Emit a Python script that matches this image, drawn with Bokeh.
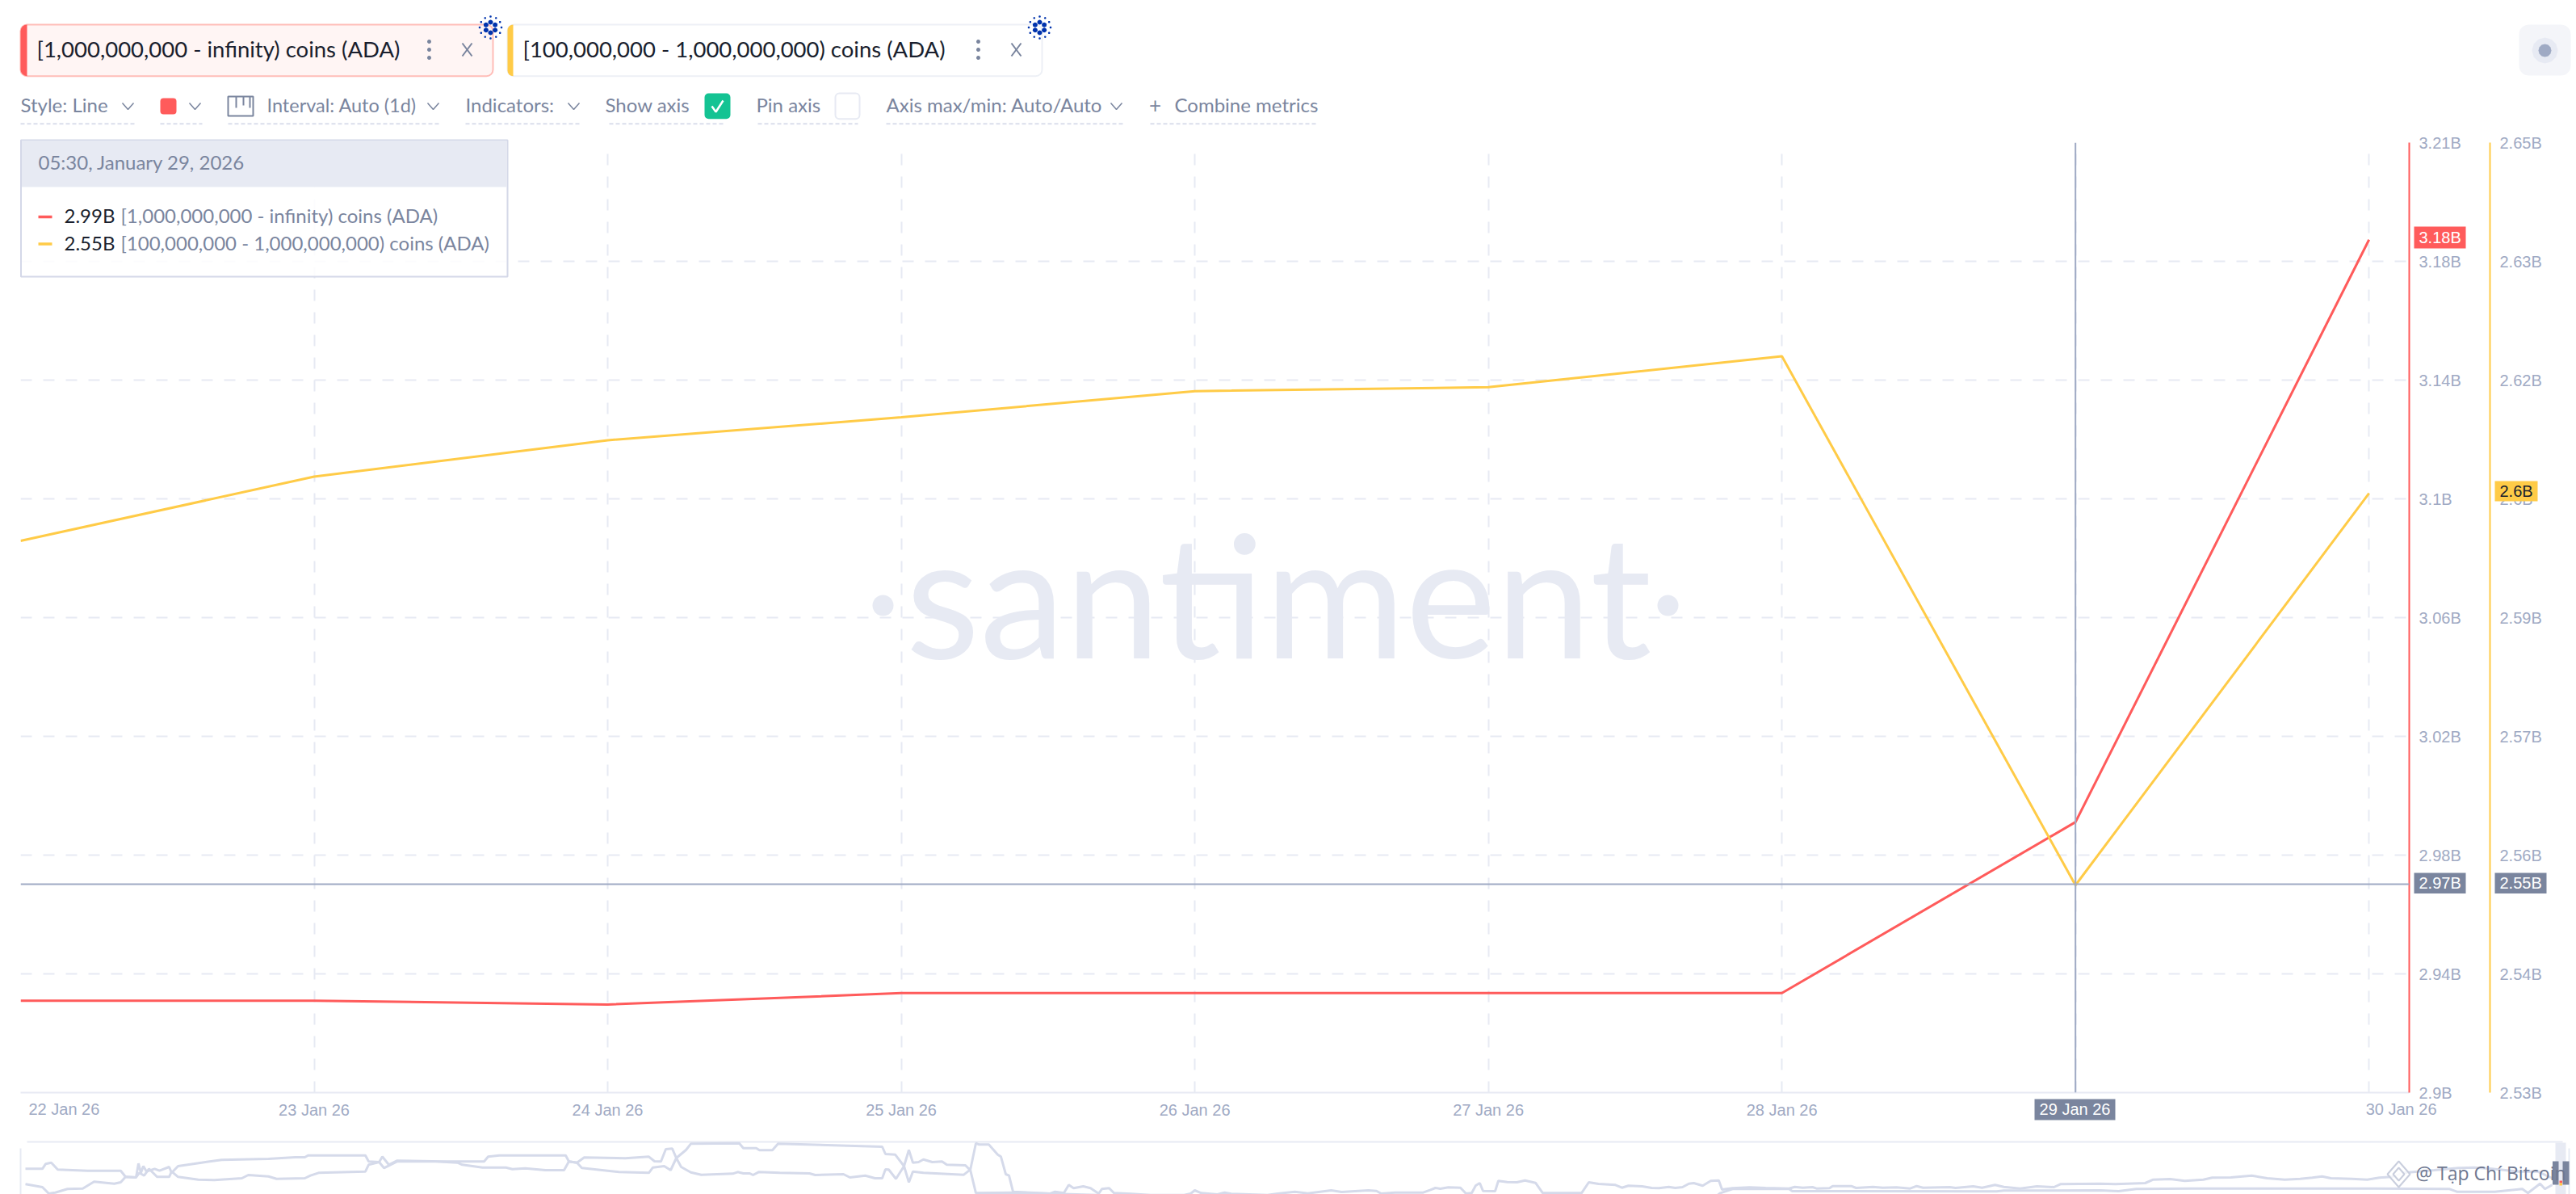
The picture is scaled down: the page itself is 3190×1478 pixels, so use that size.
from bokeh.core.properties import value
from bokeh.embed import file_html
from bokeh.models import FixedTicker, LinearAxis, Range1d, Span
from bokeh.plotting import figure
from bokeh.resources import INLINE
import numpy as np

# days shown on the main chart
days = [0, 1, 2, 3, 4, 5, 6, 7, 8]
day_labels = ["22 Jan 26", "23 Jan 26", "24 Jan 26", "25 Jan 26", "26 Jan 26",
              "27 Jan 26", "28 Jan 26", "29 Jan 26", "30 Jan 26"]

# supply held, in billions of ADA
whales_1b = [2.9305, 2.9305, 2.9292, 2.933, 2.933, 2.933, 2.933, 2.9897, 3.1828]
whales_100m = [2.5997, 2.6078, 2.6124, 2.6153, 2.6186, 2.6191, 2.623, 2.5562, 2.6057]

red_ticks = [2.9, 2.939375, 2.97875, 3.018125, 3.0575, 3.096875, 3.13625, 3.175625, 3.215]
red_tick_labels = ["2.9B", "2.94B", "2.98B", "3.02B", "3.06B", "3.1B", "3.14B", "3.18B", "3.21B"]
yellow_ticks = [2.53, 2.545, 2.56, 2.575, 2.59, 2.605, 2.62, 2.635, 2.65]
yellow_tick_labels = ["2.53B", "2.54B", "2.56B", "2.57B", "2.59B", "2.6B", "2.62B", "2.63B", "2.65B"]

crosshair_day = 7
crosshair_red = 2.9691

# overview strip: long history, arbitrary units along and across the strip
mini_upper_t = [6, 27, 31, 38, 46, 83, 124, 130, 143, 146, 149, 152, 156, 166, 172, 184, 187, 195, 224, 249,
                307, 340, 352, 356, 427, 431, 444, 448, 456, 466, 510, 541, 574, 579, 593, 625, 675, 679, 689, 698,
                749, 778, 785, 793, 799, 807, 812, 824, 830, 890, 895, 911, 915, 931, 938, 1067, 1071, 1083, 1094, 1100,
                1105, 1112, 1118, 1129, 1141, 1147, 1170, 1176, 1183, 1187, 1199, 1210, 1214, 1220, 1224, 1229, 1275, 1281, 1292, 1298,
                1304, 1316, 1325, 1335, 1339, 1348, 1354, 1375, 1399, 1441, 1449, 1454, 1462, 1482, 1491, 1499, 1544, 1557, 1578, 1594,
                1623, 1636, 1669, 1679, 1685, 1702, 1737, 1746, 1752, 1758, 1768, 1783, 1790, 1797, 1802, 1807, 1811, 1826, 1830, 1841,
                1853, 1863, 1876, 1885, 1925, 1933, 1942, 1954, 1975, 1983, 1991, 2008, 2020, 2029, 2041, 2049, 2058, 2066, 2072, 2083,
                2093, 2103, 2107, 2120, 2141, 2161, 2190, 2197, 2207, 2219, 2224, 2240, 2244, 2267, 2273, 2294, 2306, 2323, 2340, 2348,
                2356, 2389, 2396, 2418, 2429, 2445, 2456, 2476, 2497, 2518, 2526, 2575, 2594, 2631, 2641, 2662, 2680, 2703, 2714, 2737,
                2763, 2782, 2804, 2823, 2838, 2850, 2861, 2887, 2906, 2921, 2936, 2951, 2989, 3019, 3038, 3060, 3094, 3117, 3135]
mini_upper_v = [31.7, 31.7, 37.7, 39.3, 30.7, 29.3, 29.3, 21.7, 21, 38.3, 26.7, 35, 28.3, 31.7, 29.3, 34, 26.7, 35, 39.3, 42.7,
                44, 46, 46, 48.3, 48.3, 40.7, 40, 46.7, 36.7, 41.7, 41, 40.7, 40.7, 46.7, 48.3, 48.3, 48.3, 40.7, 39.3, 45.7,
                44.7, 46.7, 41, 40.7, 56, 56.7, 45, 55, 62.7, 63.3, 57.3, 57.3, 54.7, 54.7, 62.7, 59, 50, 49.3, 35, 55,
                39.3, 40, 43.3, 40, 40.7, 36.7, 36, 30, 63.3, 61.7, 61.7, 49.3, 46.7, 25, 23.3, 3.3, 1, 3.3, 1.7, 11.7,
                7.7, 10, 7.7, 1, 6.7, 7.7, 1.7, 0.7, -0.7, -0.7, 1, 5, 1.7, 0, 2.3, 0.7, -0.7, 1, 3.3, 1.3,
                5, 3, 5, 4.3, 1, 2.3, 2.3, 5.7, 8, 7, 8.7, 8.3, 1, 1.7, 11, 14, 4.3, 4, 16.7, 15.3,
                15, 17.3, 14.3, 1.7, 1.7, 1.7, 15, 13, 11.7, 8.3, 10.7, 10, 8, 7.7, 9.3, 8, 9, 13.3, 14, 10.7,
                16.7, 17.3, 6, 7.7, 8.7, 8, 7.3, 9.3, 8.3, 9, 7.3, 7.7, 10.3, 10.3, 8, 9.3, 8.3, 8.7, 7.3, 10.3,
                8.3, 9, 8, 10, 8.3, 11.7, 9.3, 7.3, 10, 9, 12.7, 13.3, 12.7, 14, 18.3, 19, 16.7, 18.3, 20.7, 21,
                23.3, 20, 18.3, 19.3, 20.7, 22.3, 20, 19.3, 18.3, 20.7, 21.7, 26.7, 30, 32.7, 33.3, 31.7, 28.3, 28.3, 20]
mini_lower_t = [6, 27, 35, 43, 58, 77, 91, 116, 124, 130, 143, 147, 153, 159, 169, 184, 187, 195, 220, 240,
                274, 282, 307, 317, 352, 359, 369, 427, 431, 444, 450, 466, 510, 541, 547, 572, 601, 609, 625, 650,
                673, 679, 689, 695, 741, 778, 783, 797, 805, 812, 818, 830, 843, 882, 888, 895, 903, 907, 914, 940,
                977, 984, 1019, 1027, 1046, 1058, 1067, 1071, 1075, 1084, 1094, 1100, 1105, 1118, 1168, 1176, 1183, 1229, 1275, 1340,
                2100, 2105, 2120, 2190, 2194, 2447, 2456, 2575, 2598, 2620, 2688, 2801, 2914, 3008, 3017, 3064, 3098, 3105, 3120, 3126, 3135]
mini_lower_v = [12.7, 9, 1, 2.3, 6.7, 7.3, 15.7, 13.3, 15, 21.7, 21, 26.7, 23.3, 31.7, 21.7, 21.7, 28.3, 21.7, 18.3, 17.7,
                20, 24, 22.3, 19.3, 20, 23.3, 26.7, 28.3, 36.7, 40, 32.7, 40.7, 41, 39.3, 36.7, 33.3, 33.3, 31.3, 32.3, 30,
                30, 40.7, 39.3, 32.7, 27.7, 26.7, 33.3, 35, 30, 45, 34, 27.3, 24.3, 25.7, 27.7, 26, 26, 24, 27.7, 26.7,
                26, 24, 25, 21, 23.3, 20, 20, 31, 30.7, 19.3, 35, 15, 28.3, 26.7, 24.3, 30.7, 1.7, 2.3, 1, -1,
                -2, 1.7, 6.7, 6.7, 4, 3.7, 4.7, 5, 4, 6.7, 7.3, 7.3, 7.3, 6.7, 3.3, 3.3, 6.7, 1.7, 13.3, 6.7, 11.7]

RED = "#FF5B5B"
YELLOW = "#FFCB47"
ATHENS = "#E7EAF3"
CASPER = "#9FAAC4"
WATERLOO = "#7A859E"
DARK = "#1A1F2E"
UI_FONT = "Lato"
AXIS_FONT = "Liberation Sans"

p = figure(width=3190, height=1478, toolbar_location=None, output_backend="svg",
           x_range=Range1d(0, 8.137), y_range=Range1d(2.9, 3.215), y_axis_location="right",
           min_border_left=25, min_border_right=207, min_border_top=176, min_border_bottom=126)
p.outline_line_color = None
p.background_fill_color = "white"
p.border_fill_color = "white"

# "px" puts the page furniture in plain picture coordinates, "mini" is the overview strip
p.extra_x_ranges["px"] = Range1d(25, 2983)
p.extra_y_ranges["px"] = Range1d(1352, 176)
p.extra_y_ranges["yellow"] = Range1d(2.53, 2.65)
p.extra_x_ranges["mini"] = Range1d(0, 2958)
p.extra_y_ranges["mini"] = Range1d(126, 1302)


def style_axis(axis, color):
    axis.axis_line_color = color
    axis.axis_line_width = 2
    axis.major_tick_line_color = None
    axis.minor_tick_line_color = None
    axis.major_tick_out = 0
    axis.major_tick_in = 0
    axis.minor_tick_out = 0
    axis.major_label_text_color = CASPER
    axis.major_label_text_font = AXIS_FONT
    axis.major_label_text_font_size = "20px"


red_axis = p.yaxis[0]
red_axis.ticker = FixedTicker(ticks=red_ticks)
red_axis.major_label_overrides = dict(zip(red_ticks, red_tick_labels))
style_axis(red_axis, RED)
red_axis.major_label_standoff = 12
red_axis.axis_label = " "
red_axis.axis_label_standoff = 8
red_axis.axis_label_text_font_size = "20px"

yellow_axis = LinearAxis(y_range_name="yellow", ticker=FixedTicker(ticks=yellow_ticks),
                         major_label_overrides=dict(zip(yellow_ticks, yellow_tick_labels)))
style_axis(yellow_axis, YELLOW)
yellow_axis.major_label_standoff = 12
p.add_layout(yellow_axis, "right")

x_axis = p.xaxis[0]
x_axis.ticker = FixedTicker(ticks=days)
# first and last date sit beside their tick, see below
x_axis.major_label_overrides = {d: ("" if d in (days[0], days[-1]) else t) for d, t in zip(days, day_labels)}
style_axis(x_axis, ATHENS)
x_axis.major_label_standoff = 10

for grid, ticks in ((p.xgrid[0], days), (p.ygrid[0], red_ticks)):
    grid.ticker = FixedTicker(ticks=ticks)
    grid.grid_line_color = ATHENS
    grid.grid_line_width = 2
    grid.grid_line_dash = "14 14"

OVER = dict(x_range_name="px", y_range_name="px", level="overlay")


def text(x, y, s, color=WATERLOO, size=24, font=UI_FONT, align="left", baseline="middle", **kw):
    p.text(x=[x], y=[y], text=[s], text_color=color, text_font=value(font), text_font_size=f"{size}px",
           text_align=align, text_baseline=baseline, **{**OVER, **kw})


def box(x0, x1, y0, y1, fill="white", line=None, radius=0, width=2, alpha=1.0):
    p.quad(left=[x0], right=[x1], top=[y0], bottom=[y1], fill_color=fill, fill_alpha=alpha,
           line_color=line, line_width=width, border_radius=radius, **OVER)


def stroke(xs, ys, color=WATERLOO, width=2, dash="solid"):
    p.line(xs, ys, line_color=color, line_width=width, line_dash=dash, **OVER)


# markers outside the frame get culled, a patch does not
def dot(x, y, r, color, alpha=1.0):
    a = np.radians(np.arange(0, 360, 30))
    p.patch(x + r * np.cos(a), y + r * np.sin(a), fill_color=color, fill_alpha=alpha, line_color=None, **OVER)


def chevron(x, y):
    stroke([x - 7, x, x + 7], [y - 4, y + 4, y - 4], color=WATERLOO, width=1.5)


def cross(x, y):
    stroke([x - 6, x + 6], [y - 8, y + 8], width=2)
    stroke([x - 6, x + 6], [y + 8, y - 8], width=2)


def dots(x, y):
    for dy in (-10, 0, 10):
        dot(x, y + dy, 2.5, WATERLOO)


def ada(x, y):
    for a in np.radians(np.arange(0, 360, 60) + 30):
        dot(x + 6.5 * np.cos(a), y + 6.5 * np.sin(a), 3, "#0033AD")
    for a in np.radians(np.arange(0, 360, 30)):
        dot(x + 13.5 * np.cos(a), y + 13.5 * np.sin(a), 1.3, "#0033AD")


def underline(x0, x1):
    stroke([x0, x1], [152.7, 152.7], color="#DADEEC", width=2, dash="5 3")


# watermark under everything
p.text(x=[1121], y=[732], text=["santiment"], text_color=ATHENS, text_font=value("Lato"),
       text_font_size="212px", text_baseline="alphabetic", x_range_name="px", y_range_name="px", level="underlay")
p.scatter([1093, 2065], [749, 749], marker="circle", size=26, fill_color=ATHENS, line_color=None,
          x_range_name="px", y_range_name="px", level="underlay")

# series
p.line(days, whales_1b, line_color=RED, line_width=3)
p.line(days, whales_100m, line_color=YELLOW, line_width=3, y_range_name="yellow")

# crosshair
p.add_layout(Span(location=crosshair_day, dimension="height", line_color=CASPER, line_width=2))
p.add_layout(Span(location=crosshair_red, dimension="width", line_color=CASPER, line_width=2))

# metric tabs
box(25, 610, 30, 93.7, fill="#FFF5F4", line="#FFBDB8", radius=8)
box(25, 33, 30, 93.7, fill=RED, radius=(8, 0, 0, 8))
text(45, 60, "[1,000,000,000 - infinity) coins (ADA)", color=DARK, size=27.5)
dots(531, 61)
cross(578, 61)
ada(607, 33.5)

box(628, 1290, 30, 93.7, fill="white", line="#EDF0F6", radius=8)
box(628, 635, 30, 93.7, fill=YELLOW, radius=(8, 0, 0, 8))
text(647, 60, "[100,000,000 - 1,000,000,000) coins (ADA)", color=DARK, size=27.5)
dots(1211, 61)
cross(1258, 61)
ada(1287, 33.5)

# top right button
box(3119, 3183, 30, 93, fill="#F4F5F9", radius=12)
dot(3151, 62, 16, ATHENS)
dot(3151, 62, 8, CASPER)

# settings row
text(25, 129, "Style: Line")
chevron(158, 131)
underline(25, 166)
box(198, 218, 121, 141, fill=RED, radius=4)
chevron(241, 131)
underline(198, 250)
box(282, 313, 119, 143, fill="white", line=WATERLOO)
stroke([292, 292], [119, 133])
stroke([301, 301], [119, 130])
stroke([309, 309], [119, 133])
text(330, 129, "Interval: Auto (1d)", size=23.5)
chevron(536, 131)
underline(282, 544)
text(576, 129, "Indicators:")
chevron(710, 131)
underline(576, 718)
text(749, 129, "Show axis")
box(872, 904, 115, 146.7, fill="#14C393", radius=5)
stroke([881, 886, 895], [131, 138, 124], color="white", width=2.5)
underline(754, 898)
text(936, 129, "Pin axis")
box(1034, 1064, 115, 146.7, fill="white", line=ATHENS, radius=5)
underline(938, 1062)
text(1097, 129, "Axis max/min: Auto/Auto")
chevron(1382, 131)
underline(1097, 1390)
text(1430, 129, "+", align="center", size=26)
text(1454, 129, "Combine metrics")
underline(1424, 1632)

# tooltip
box(25.5, 628, 173, 342, fill="white", line="#D4D8E8", alpha=0.85)
box(26.5, 627, 174, 231, fill=ATHENS)
text(47, 199.5, "05:30, January 29, 2026")
stroke([47, 64], [268, 268], color=RED, width=3.5)
text(79, 266, "2.99B", color=DARK)
text(149, 266, "[1,000,000,000 - infinity) coins (ADA)")
stroke([47, 64], [301.5, 301.5], color=YELLOW, width=3.5)
text(79, 300, "2.55B", color=DARK)
text(149, 300, "[100,000,000 - 1,000,000,000) coins (ADA)")

# end of range dates
p.text(x=[days[0]], y=[1372], text=[day_labels[0]], x_offset=10, y_range_name="px", level="overlay",
       text_color=CASPER, text_font=value(AXIS_FONT), text_font_size="20px", text_baseline="middle")
p.text(x=[days[-1]], y=[1372], text=[day_labels[-1]], x_offset=-4, y_range_name="px", level="overlay",
       text_color=CASPER, text_font=value(AXIS_FONT), text_font_size="20px", text_baseline="middle")

# value badges
box(2989, 3053, 280, 307, fill=RED)
text(2995, 293, "3.18B", color="white", size=20, font=AXIS_FONT)
box(3089, 3142, 595, 620, fill=YELLOW)
text(3095, 607, "2.6B", color=DARK, size=20, font=AXIS_FONT)
box(2989, 3053, 1080, 1105.5, fill=WATERLOO)
text(2995, 1092, "2.97B", color="white", size=20, font=AXIS_FONT)
box(3089, 3153, 1080, 1105.5, fill=WATERLOO)
text(3095, 1092, "2.55B", color="white", size=20, font=AXIS_FONT)
box(2519, 2619, 1360, 1386, fill=WATERLOO)
text(2569, 1372.5, day_labels[crosshair_day], color="white", size=20, font=AXIS_FONT, align="center")

# overview strip
stroke([25, 25], [1478, 1421], color=ATHENS)
stroke([33, 3173], [1413, 1413], color=ATHENS)
stroke([3181, 3181], [1421, 1478], color=ATHENS)
box(3164, 3177, 1414, 1478, fill=ATHENS)
for ts, vs in ((mini_upper_t, mini_upper_v), (mini_lower_t, mini_lower_v)):
    p.line(ts, vs, line_color="#D5DAEA", line_width=3, x_range_name="mini", y_range_name="mini", level="overlay")
box(3160.5, 3168, 1437, 1466, fill=WATERLOO)
box(3173, 3181, 1437, 1466, fill=WATERLOO)
box(3169, 3172.5, 1461, 1464, fill=RED)
box(3169, 3172.5, 1464, 1467, fill=YELLOW)

# repost watermark
text(2991, 1451, "@ Tạp Chí Bitcoin", color="#6E7790", size=23, font="Open Sans")
a = np.radians(np.arange(0, 360, 90))
for rx, ry in ((14, 16), (7, 8)):
    p.patch(2970 + rx * np.cos(a), 1453 + ry * np.sin(a), fill_color="white", fill_alpha=0.7,
            line_color="#C9CEDD", line_width=2, **OVER)

open("out.html", "w").write(file_html(p, INLINE))
